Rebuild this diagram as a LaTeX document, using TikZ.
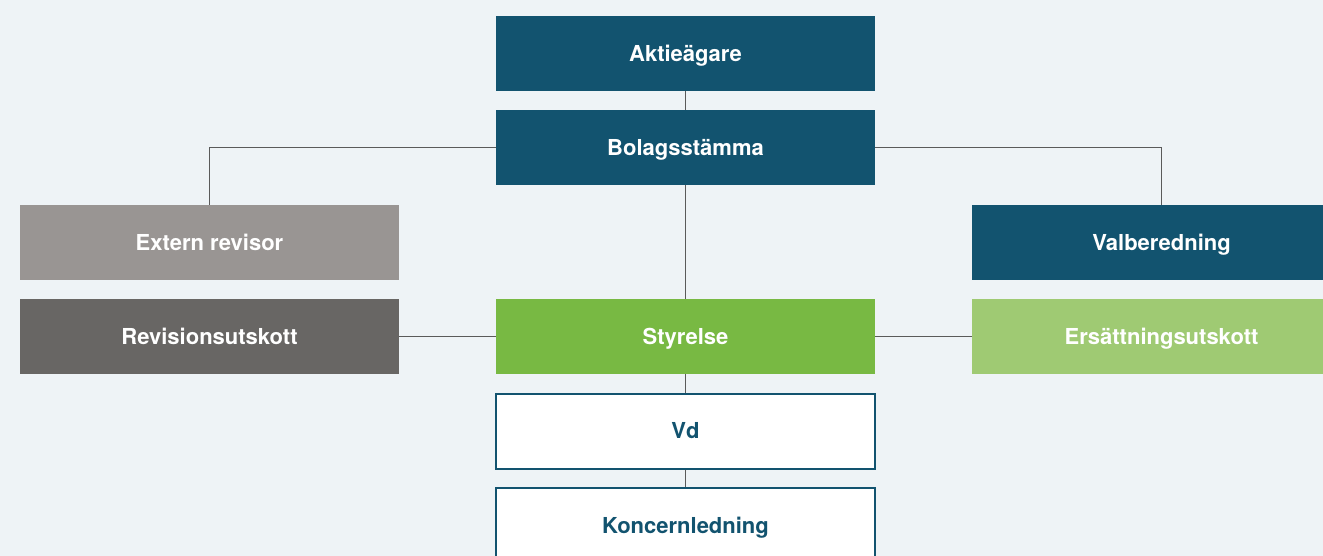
\documentclass[tikz,border=0pt]{standalone}
\usepackage{fontspec}
\setmainfont{TeX Gyre Heros}
\usepackage{tikz}
\definecolor{bgblue}{HTML}{EEF3F6}
\definecolor{teal}{HTML}{12536F}
\definecolor{lightgray}{HTML}{999593}
\definecolor{darkgray}{HTML}{686664}
\definecolor{green}{HTML}{78B943}
\definecolor{lightgreen}{HTML}{9FCA73}
\definecolor{linegray}{HTML}{5A5A5A}
\tikzset{
	box/.style={minimum width=379pt, minimum height=75pt, inner sep=0pt, text height=15.5pt, text depth=0pt, font=\fontsize{22}{24}\selectfont\bfseries, text=white},
	tealbox/.style={box, fill=teal},
	whitebox/.style={box, fill=white, draw=teal, line width=2pt, text=teal},
	link/.style={draw=linegray, line width=1pt}
}

\begin{document}
\begin{tikzpicture}[x=1pt, y=-1pt]
			%%%%% START %%%%%
			
			\fill[bgblue] (0, 0) rectangle (1323, 556);
			\useasboundingbox (0, 0) rectangle (1323, 556);
			
			\node[tealbox] (aktie) at (685.5, 53.5) {Aktieägare};
			\node[tealbox] (stamma) at (685.5, 147.5) {Bolagsstämma};
			\node[box, fill=lightgray] (revisor) at (209.5, 242.5) {Extern revisor};
			\node[tealbox] (valb) at (1161.5, 242.5) {Valberedning};
			\node[box, fill=darkgray] (revutsk) at (209.5, 336.5) {Revisionsutskott};
			\node[box, fill=green] (styrelse) at (685.5, 336.5) {Styrelse};
			\node[box, fill=lightgreen] (ersutsk) at (1161.5, 336.5) {Ersättningsutskott};
			\node[whitebox] (vd) at (685.5, 431) {Vd};
			\node[whitebox] (koncern) at (685.5, 525.5) {Koncernledning};
			
			\draw[link] (aktie) -- (stamma);
			\draw[link] (stamma.west) -| (revisor.north);
			\draw[link] (stamma.east) -| (valb.north);
			\draw[link] (stamma) -- (styrelse);
			\draw[link] (revutsk) -- (styrelse);
			\draw[link] (styrelse) -- (ersutsk);
			\draw[link] (styrelse) -- (vd);
			\draw[link] (vd) -- (koncern);
			
			%%%%% END %%%%%
		\end{tikzpicture}
\end{document}
